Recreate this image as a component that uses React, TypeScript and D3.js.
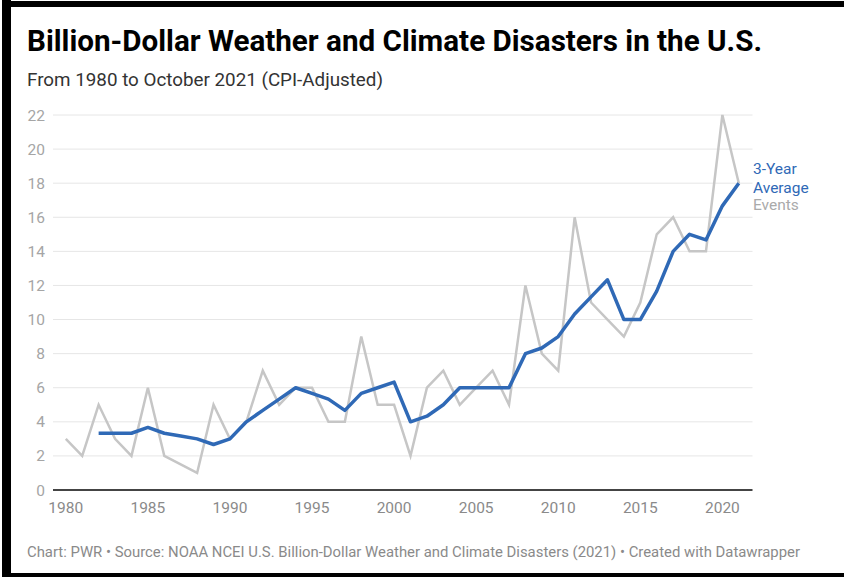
import React from "react";
import * as d3 from "d3";

const years: number[] = d3.range(1980, 2022);
const events: number[] = [
  3, 2, 5, 3, 2, 6, 2, 1.5, 1, 5,
  3, 4, 7, 5, 6, 6, 4, 4, 9, 5,
  5, 2, 6, 7, 5, 6, 7, 5, 12, 8,
  7, 16, 11, 10, 9, 11, 15, 16, 14, 14,
  22, 18,
];
const avg3: (number | null)[] = [
  null, null, 3.33, 3.33, 3.33, 3.67, 3.33, 3.17, 3.0, 2.67,
  3.0, 4.0, 4.67, 5.33, 6.0, 5.67, 5.33, 4.67, 5.67, 6.0,
  6.33, 4.0, 4.33, 5.0, 6.0, 6.0, 6.0, 6.0, 8.0, 8.33,
  9.0, 10.33, 11.33, 12.33, 10.0, 10.0, 11.67, 14.0, 15.0, 14.67,
  16.67, 18.0,
];
const yTicks: number[] = [0, 2, 4, 6, 8, 10, 12, 14, 16, 18, 20, 22];
const xTicks: number[] = [1980, 1985, 1990, 1995, 2000, 2005, 2010, 2015, 2020];

const title = "Billion-Dollar Weather and Climate Disasters in the U.S.";
const subtitle = "From 1980 to October 2021 (CPI-Adjusted)";
const footer =
  "Chart: PWR \u2022 Source: NOAA NCEI U.S. Billion-Dollar Weather and Climate Disasters (2021) \u2022 Created with Datawrapper";

const W = 844;
const H = 577;
const FONT = "Roboto, 'Noto Sans', sans-serif";
const BLUE = "#2f69b6";
const GRAY = "#c6c6c6";

export default function App() {
  const x = d3.scaleLinear().domain([1980, 2021]).range([65.8, 738.8]);
  const y = d3.scaleLinear().domain([0, 22]).range([490, 115]);
  const gridX0 = 53;
  const gridX1 = 752.5;

  const eventsLine = d3
    .line<number>()
    .x((_, i) => x(years[i]))
    .y((d) => y(d));
  const avgLine = d3
    .line<number | null>()
    .defined((d) => d !== null)
    .x((_, i) => x(years[i]))
    .y((d) => y(d as number));

  return (
    <svg
      width={W}
      height={H}
      style={{ position: "absolute", left: 0, top: 0, background: "#fff" }}
      fontFamily={FONT}
    >
      <rect x={0} y={0} width={W} height={H} fill="#fff" />
      {/* frame */}
      <rect x={2} y={0} width={9} height={H} fill="#000" />
      <rect x={2} y={1} width={W - 2} height={6} fill="#000" />
      <rect x={2} y={573} width={W - 2} height={4} fill="#000" />

      <text
        x={27}
        y={51}
        fontSize={30}
        fontWeight={700}
        fill="#000"
        textLength={735}
        lengthAdjust="spacingAndGlyphs"
      >
        {title}
      </text>
      <text
        x={27}
        y={86}
        fontSize={18.5}
        fill="#333"
        textLength={356}
        lengthAdjust="spacingAndGlyphs"
      >
        {subtitle}
      </text>

      {yTicks.map((t) => (
        <g key={t}>
          {t !== 0 && (
            <line x1={gridX0} x2={gridX1} y1={y(t)} y2={y(t)} stroke="#e6e6e6" strokeWidth={1} />
          )}
          <text x={45} y={y(t) + 5.5} fontSize={15.5} fill="#a5a5a5" textAnchor="end">
            {t}
          </text>
        </g>
      ))}

      <path d={eventsLine(events) || ""} fill="none" stroke={GRAY} strokeWidth={2.5} strokeLinejoin="miter" />
      <path d={avgLine(avg3) || ""} fill="none" stroke={BLUE} strokeWidth={3.5} strokeLinejoin="round" />

      <line x1={gridX0} x2={gridX1} y1={y(0)} y2={y(0)} stroke="#444" strokeWidth={2} />

      {xTicks.map((t) => (
        <text key={t} x={x(t)} y={513} fontSize={15.5} fill="#8a8a8a" textAnchor="middle">
          {t}
        </text>
      ))}

      <text x={753} y={174} fontSize={15.5} fill={BLUE}>
        3-Year
      </text>
      <text x={753} y={192.5} fontSize={15.5} fill={BLUE}>
        Average
      </text>
      <text x={753} y={209.5} fontSize={15.5} fill="#aaaaaa">
        Events
      </text>

      <text
        x={27}
        y={557}
        fontSize={14}
        fill="#8a8a8a"
        textLength={773}
        lengthAdjust="spacingAndGlyphs"
      >
        {footer}
      </text>
    </svg>
  );
}
